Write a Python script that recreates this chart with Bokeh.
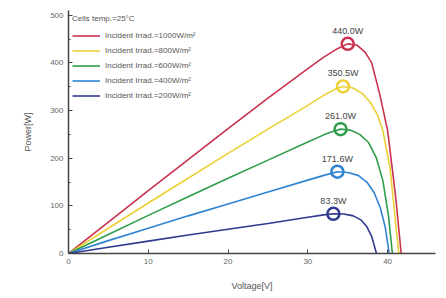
from bokeh.plotting import figure
from bokeh.models import Range1d, Legend, LegendItem, ColumnDataSource, FixedTicker
from bokeh.embed import file_html
from bokeh.resources import INLINE
from bokeh.core.properties import value

# ---- data ----
v_1000 = [0, 5, 10, 15, 20, 25, 30, 32, 33.5, 35, 36.2, 37.2, 38, 39, 40, 41, 41.7]
p_1000 = [0, 66, 132, 197, 262, 326, 388, 412, 428, 440, 437, 422, 400, 335, 258, 120, 0]

v_800 = [0, 5, 10, 15, 20, 25, 30, 32, 33.3, 34.4, 35.6, 36.8, 37.8, 38.7, 39.4, 40.3, 41.1, 41.4]
p_800 = [0, 53, 106, 158, 210, 261, 311, 332, 344, 350.5, 348, 336, 318, 292, 258, 180, 48, 0]

v_600 = [0, 5, 10, 15, 20, 25, 30, 32, 33.1, 34.1, 35.3, 36.5, 37.6, 38.6, 39.4, 40.1, 40.6]
p_600 = [0, 40, 80, 119, 158, 196, 234, 249, 256, 261, 259, 250, 233, 200, 153, 80, 0]

v_400 = [0, 5, 10, 15, 20, 25, 30, 32, 33.7, 35, 36.3, 37.4, 38.3, 39.1, 39.7, 40.2]
p_400 = [0, 27, 53, 79, 104, 129, 154, 164, 171.6, 170, 164, 150, 128, 95, 55, 0]

v_200 = [0, 5, 10, 15, 20, 25, 30, 32, 33.2, 34.5, 35.7, 36.7, 37.4, 38, 38.6]
p_200 = [0, 13, 26, 39, 51, 63, 76, 81, 83.3, 83, 79, 70, 56, 36, 0]

mpp_v = [35, 34.4, 34.1, 33.7, 33.2]
mpp_p = [440.0, 350.5, 261.0, 171.6, 83.3]
mpp_labels = ["440.0W", "350.5W", "261.0W", "171.6W", "83.3W"]

series_labels = [
    "Incident Irrad.=1000W/m²",
    "Incident Irrad.=800W/m²",
    "Incident Irrad.=600W/m²",
    "Incident Irrad.=400W/m²",
    "Incident Irrad.=200W/m²",
]
colors = ["#c8324e", "#ecd035", "#2f9e4a", "#2f84d2", "#2f3a8e"]

x_ticks = [0, 10, 20, 30, 40]
y_ticks = [0, 100, 200, 300, 400, 500]
y_minor = [50, 150, 250, 350, 450]

FONT = "Liberation Sans"

p = figure(width=438, height=296, output_backend="svg", toolbar_location=None,
           x_range=Range1d(0, 46), y_range=Range1d(0, 510),
           min_border_left=68, min_border_right=3, min_border_top=10, min_border_bottom=43)
p.outline_line_color = None
p.grid.grid_line_color = None
p.background_fill_color = "#ffffff"

curves = [(v_1000, p_1000), (v_800, p_800), (v_600, p_600), (v_400, p_400), (v_200, p_200)]
items = []
for (vv, pp), c, lab in zip(curves, colors, series_labels):
    r = p.line(vv, pp, line_color=c, line_width=1.6)
    items.append(LegendItem(label=lab, renderers=[r]))

src = ColumnDataSource(dict(x=mpp_v, y=mpp_p, t=mpp_labels, c=colors))
p.scatter("x", "y", source=src, size=12, marker="circle", line_color="c",
          line_width=2.5, fill_alpha=0)
p.text("x", "y", text="t", source=src, text_align="center", text_baseline="bottom",
       y_offset=-8, text_font=value(FONT), text_font_size="9px", text_color="#444444")

legend = Legend(items=items, location="top_left", title="Cells temp.=25°C")
legend.border_line_color = None
legend.background_fill_alpha = 0
legend.margin = 4
legend.padding = 6
legend.spacing = 0
legend.label_height = 12
legend.glyph_height = 15
legend.glyph_width = 28
legend.label_text_font = FONT
legend.label_text_font_size = "8px"
legend.label_text_color = "#555555"
legend.title_text_font = FONT
legend.title_text_font_size = "8px"
legend.title_text_font_style = "normal"
legend.title_text_color = "#555555"
p.add_layout(legend)

for ax in (p.xaxis[0], p.yaxis[0]):
    ax.axis_line_color = "#444444"
    ax.axis_line_width = 1.5
    ax.major_tick_line_color = "#444444"
    ax.major_tick_in = 4
    ax.major_tick_out = 0
    ax.minor_tick_in = 2
    ax.minor_tick_out = 0
    ax.major_label_text_font = FONT
    ax.major_label_text_font_size = "8px"
    ax.major_label_text_color = "#666666"
    ax.axis_label_text_font = FONT
    ax.axis_label_text_font_size = "9px"
    ax.axis_label_text_font_style = "normal"
    ax.axis_label_text_color = "#555555"
    ax.axis_label_standoff = 14

p.xaxis.ticker = FixedTicker(ticks=x_ticks)
p.yaxis.ticker = FixedTicker(ticks=y_ticks, minor_ticks=y_minor)
p.xaxis.minor_tick_line_color = None
p.yaxis.minor_tick_line_color = "#444444"
p.xaxis.axis_label = "Voltage[V]"
p.yaxis.axis_label = "Power[W]"

open("out.html", "w").write(file_html(p, INLINE))
